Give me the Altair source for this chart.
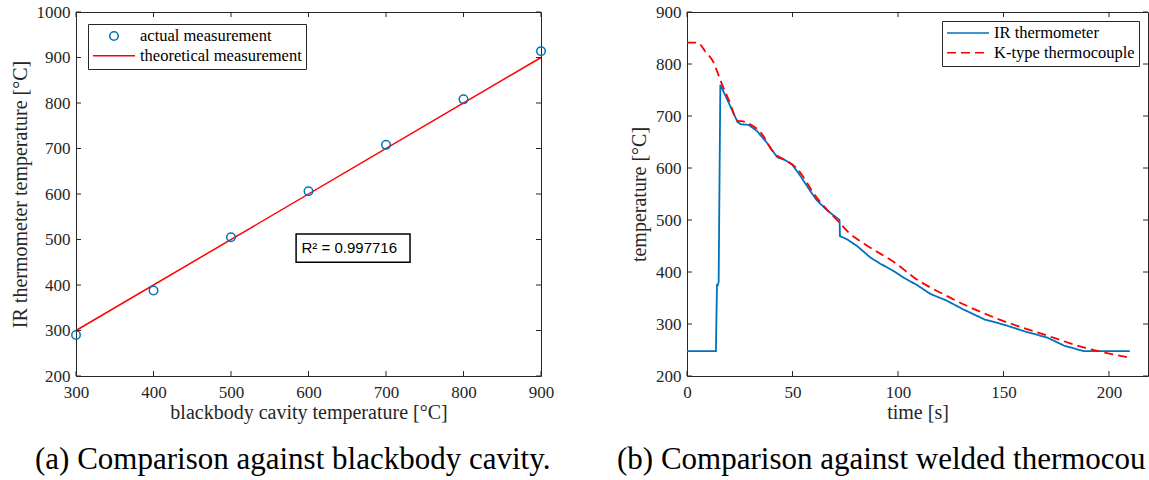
import altair as alt
import pandas as pd

# ---------------- panel (a): blackbody cavity ----------------
cavity_temp = [300, 400, 500, 600, 700, 800, 900]
ir_measured = [290, 388, 505, 606, 708, 808, 914]
theory_temp = [300, 900]
theory_meas = [300, 900]
a_series = ["actual measurement", "theoretical measurement"]
r2_label = ["R\u00b2 = 0.997716"]
r2_box_x = [584, 731]
r2_box_y = [450, 512]
r2_text_at = [591, 481]

# ---------------- panel (b): welded thermocouple ----------------
ir_time = [0, 13.7, 14.2, 14.6, 15.0, 15.8, 19.7, 24.0, 25.6, 29.2, 33.2, 37.6,
           42.7, 46.6, 49.8, 53.7, 58.4, 61.5, 66.3, 72.3, 72.5, 75.8, 80.6, 86.9,
           91.6, 97.9, 102.7, 109.0, 115.3, 119.4, 122.6, 131.0, 140.9, 150.8,
           160.7, 170.7, 178.9, 188.0, 209.9]
ir_temp = [248, 248, 375, 375, 381, 760, 726, 688, 684, 683, 671, 650,
           621, 615, 607, 585, 556, 538, 519, 500, 469, 463, 450, 428,
           416, 402, 389, 375, 358, 351, 346, 328, 309, 298,
           285, 274, 258, 248, 248]
tc_time = [0, 5, 8.5, 12.7, 16, 20, 24.3, 26, 28.4, 35, 41.6, 46.6, 51.6, 61.5,
           72.2, 76.6, 84.5, 99.5, 107.4, 122.6, 149.1, 169, 188.9, 209.9]
tc_temp = [841, 841, 825, 802, 767, 729, 690, 690, 687, 668, 627, 615, 601, 543,
           495, 476, 453, 415, 390, 355, 307, 280, 254, 235]
b_series = ["IR thermometer", "K-type thermocouple"]

# tick values
a_xticks = [300, 400, 500, 600, 700, 800, 900]
a_yticks = [200, 300, 400, 500, 600, 700, 800, 900, 1000]
b_xticks = [0, 50, 100, 150, 200]
b_yticks = [200, 300, 400, 500, 600, 700, 800, 900]

captions = ["(a) Comparison against blackbody cavity.",
            "(b) Comparison against welded thermocou"]

BLUE = "#0072BD"
RED = "#FF0000"
AX = "#262626"
SERIF = "Liberation Serif"
W1, W2, H = 465, 461, 364
TL = 5


def inward_ticks(xvals, yvals, X, Y, W):
    tx = pd.DataFrame({"v": xvals})
    ty = pd.DataFrame({"v": yvals})
    rule = dict(color=AX, strokeWidth=1)
    return [
        alt.Chart(tx).mark_rule(**rule).encode(x=X("v:Q"), y=alt.value(H), y2=alt.value(H - TL)),
        alt.Chart(tx).mark_rule(**rule).encode(x=X("v:Q"), y=alt.value(0), y2=alt.value(TL)),
        alt.Chart(ty).mark_rule(**rule).encode(y=Y("v:Q"), x=alt.value(0), x2=alt.value(TL)),
        alt.Chart(ty).mark_rule(**rule).encode(y=Y("v:Q"), x=alt.value(W), x2=alt.value(W - TL)),
    ]


# ---- panel (a) ----
xa_scale = alt.Scale(domain=[300, 900], nice=False)
ya_scale = alt.Scale(domain=[200, 1000], nice=False)
xa_axis = alt.Axis(title="blackbody cavity temperature [\u00b0C]", values=a_xticks, format="d")
ya_axis = alt.Axis(title="IR thermometer temperature [\u00b0C]", values=a_yticks, format="d")


def XA(f):
    return alt.X(f, scale=xa_scale, axis=xa_axis)


def YA(f):
    return alt.Y(f, scale=ya_scale, axis=ya_axis)


leg_a = alt.Legend(title=None, orient="top-left", offset=12, clipHeight=16)
color_a = alt.Color("series:N", scale=alt.Scale(domain=a_series, range=[BLUE, RED]), legend=leg_a)

theory_df = pd.DataFrame({"x": theory_temp, "y": theory_meas, "series": a_series[1]})
meas_df = pd.DataFrame({"x": cavity_temp, "y": ir_measured, "series": a_series[0]})
r2_df = pd.DataFrame({"x": [r2_box_x[0]], "x2": [r2_box_x[1]],
                      "y": [r2_box_y[0]], "y2": [r2_box_y[1]],
                      "tx": [r2_text_at[0]], "ty": [r2_text_at[1]], "label": r2_label})

line_a = alt.Chart(theory_df).mark_line(strokeWidth=1.5).encode(
    x=XA("x:Q"), y=YA("y:Q"), color=color_a)
pts_a = alt.Chart(meas_df).mark_point(filled=False, strokeWidth=1.5, opacity=1).encode(
    x=XA("x:Q"), y=YA("y:Q"), color=color_a,
    shape=alt.Shape("series:N", scale=alt.Scale(domain=a_series, range=["circle", "stroke"]), legend=leg_a),
    size=alt.Size("series:O", scale=alt.Scale(domain=a_series, range=[72, 1764]), legend=leg_a))
box_a = alt.Chart(r2_df).mark_rect(fill="white", stroke="black", strokeWidth=1.5).encode(
    x=XA("x:Q"), x2="x2", y=YA("y:Q"), y2="y2")
txt_a = alt.Chart(r2_df).mark_text(align="left", baseline="middle", font="Liberation Sans",
                                   fontSize=15, color="black").encode(
    x=XA("tx:Q"), y=YA("ty:Q"), text="label:N")

panel_a = alt.layer(line_a, pts_a, box_a, txt_a,
                    *inward_ticks(a_xticks, a_yticks, XA, YA, W1)).properties(
    width=W1, height=H,
    title=alt.TitleParams(captions[0], orient="bottom", anchor="start", frame="group",
                          dx=-41, offset=23, fontSize=31, font=SERIF,
                          fontWeight="normal", color="black"))

# ---- panel (b) ----
xb_scale = alt.Scale(domain=[0, 218.5], nice=False)
yb_scale = alt.Scale(domain=[200, 900], nice=False)
xb_axis = alt.Axis(title="time [s]", values=b_xticks, format="d")
yb_axis = alt.Axis(title="temperature [\u00b0C]", values=b_yticks, format="d")


def XB(f):
    return alt.X(f, scale=xb_scale, axis=xb_axis)


def YB(f):
    return alt.Y(f, scale=yb_scale, axis=yb_axis)


leg_b = alt.Legend(title=None, orient="top-right", offset=9, symbolType="stroke",
                   symbolSize=1764, clipHeight=16)
color_b = alt.Color("series:N", scale=alt.Scale(domain=b_series, range=[BLUE, RED]), legend=leg_b)
dash_b = alt.StrokeDash("series:N", scale=alt.Scale(domain=b_series, range=[[1, 0], [9, 5]]), legend=leg_b)

ir_df = pd.DataFrame({"t": ir_time, "T": ir_temp, "series": b_series[0]})
tc_df = pd.DataFrame({"t": tc_time, "T": tc_temp, "series": b_series[1]})

ir_line = alt.Chart(ir_df).mark_line(strokeWidth=1.8).encode(
    x=XB("t:Q"), y=YB("T:Q"), color=color_b, strokeDash=dash_b)
tc_line = alt.Chart(tc_df).mark_line(strokeWidth=1.8, interpolate="monotone").encode(
    x=XB("t:Q"), y=YB("T:Q"), color=color_b, strokeDash=dash_b)

panel_b = alt.layer(ir_line, tc_line, *inward_ticks(b_xticks, b_yticks, XB, YB, W2)).properties(
    width=W2, height=H,
    title=alt.TitleParams(captions[1], orient="bottom", anchor="start", frame="group",
                          dx=-70, offset=23, fontSize=31, font=SERIF,
                          fontWeight="normal", color="black"))

chart = alt.hconcat(panel_a, panel_b, spacing=146, bounds="flush").resolve_scale(
    color="independent", strokeDash="independent", shape="independent", size="independent",
    x="independent", y="independent",
).resolve_legend(
    color="independent", strokeDash="independent", shape="independent", size="independent",
).properties(
    padding={"left": 9, "top": 2, "right": 0, "bottom": 0},
    background="white",
).configure_view(
    stroke=AX, strokeWidth=1
).configure_axis(
    labelFont=SERIF, labelFontSize=17, labelColor=AX,
    titleFont=SERIF, titleFontSize=20, titleFontWeight="normal", titleColor=AX,
    ticks=False, domain=False, grid=False, labelFlush=False, labelOverlap=False,
    titleLimit=1000,
).configure_axisX(
    labelPadding=8, titlePadding=2
).configure_axisY(
    labelPadding=6, titlePadding=6
).configure_legend(
    labelFont=SERIF, labelFontSize=16.5, labelColor="black", labelLimit=600,
    strokeColor=AX, fillColor="white", padding=4, rowPadding=2.7,
    labelOffset=4, symbolStrokeWidth=1.6, cornerRadius=0,
)

chart.save("out.html", embed_options={"renderer": "svg", "actions": False})
